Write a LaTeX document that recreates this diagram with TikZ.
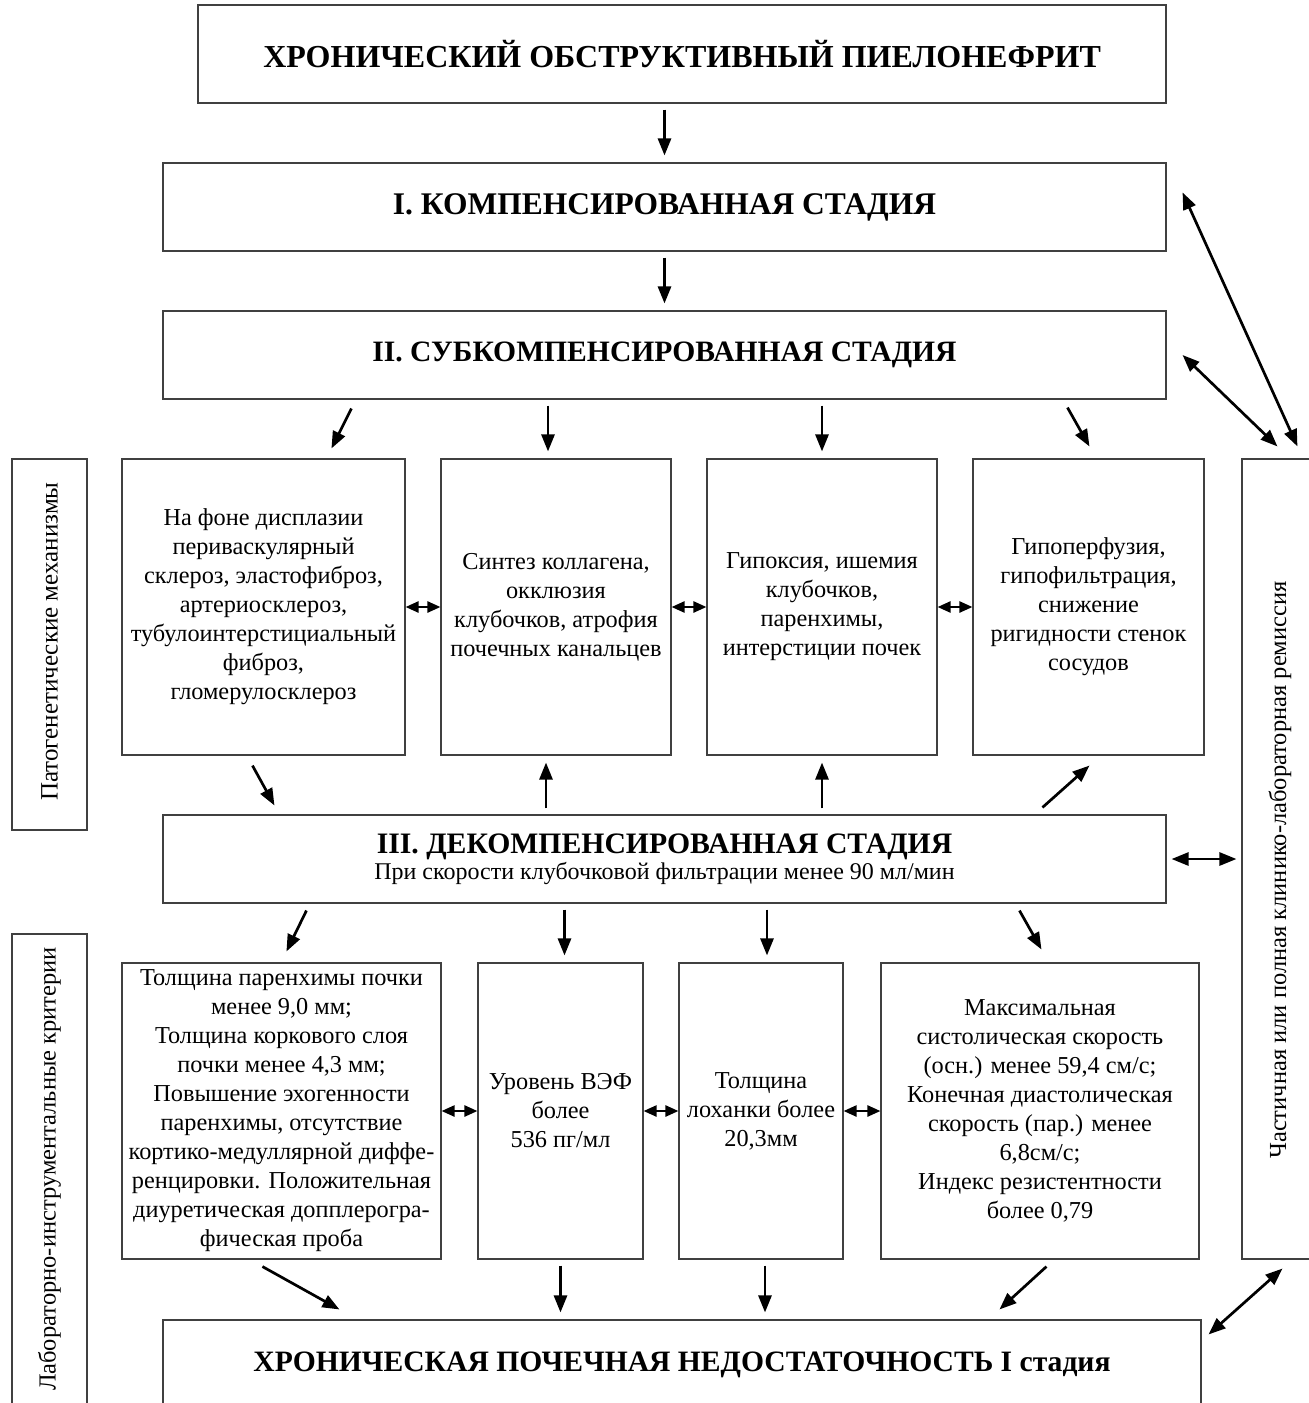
\documentclass[tikz,border=0pt]{standalone}
\usepackage{fontspec}
\setmainfont{Liberation Serif}
\usetikzlibrary{arrows.meta,calc}
\begin{document}
\begin{tikzpicture}[x=1pt,y=-1pt,
  box/.style={draw=black!75,line width=1.1pt,inner sep=0pt,align=center,
    font=\fontsize{24.3}{29}\selectfont},
  titlebox/.style={box,font=\fontsize{29.6}{34}\selectfont\bfseries},
  sidetext/.style={rotate=90,inner sep=0pt,font=\fontsize{24.5}{29}\selectfont},
  arr/.style={line width=2.7pt,-{Triangle[length=17pt,width=13pt]}},
  darr/.style={line width=2.7pt,{Triangle[length=17pt,width=13pt]}-{Triangle[length=17pt,width=13pt]}},
  sdarr/.style={line width=2.4pt,{Triangle[length=13pt,width=11pt]}-{Triangle[length=13pt,width=11pt]}},
  gap/.style={shorten <=6pt,shorten >=7pt}]
\useasboundingbox (0,0) rectangle (1309,1403);
\clip (0,0) rectangle (1309,1403);

% main column
\node[titlebox,minimum width=968,minimum height=98,font=\fontsize{32}{36}\selectfont\bfseries] (top) at (682,54) {ХРОНИЧЕСКИЙ ОБСТРУКТИВНЫЙ ПИЕЛОНЕФРИТ};
\node[titlebox,minimum width=1003,minimum height=88,font=\fontsize{31.5}{36}\selectfont\bfseries] (s1) at (664.5,207) {I. КОМПЕНСИРОВАННАЯ СТАДИЯ};
\node[titlebox,minimum width=1003,minimum height=88] (s2) at (664.5,355) {II. СУБКОМПЕНСИРОВАННАЯ СТАДИЯ};

\node[box,minimum width=283,minimum height=296] (A) at (263.5,607) {На фоне дисплазии\\периваскулярный\\склероз, эластофиброз,\\артериосклероз,\\тубулоинтерстициальный\\фиброз,\\гломерулосклероз};
\node[box,minimum width=230,minimum height=296] (B) at (556,607) {Синтез коллагена,\\окклюзия\\клубочков, атрофия\\почечных канальцев};
\node[box,minimum width=230,minimum height=296] (C) at (822,607) {Гипоксия, ишемия\\клубочков,\\паренхимы,\\интерстиции почек};
\node[box,minimum width=231,minimum height=296] (D) at (1088.5,607) {Гипоперфузия,\\гипофильтрация,\\снижение\\ригидности стенок\\сосудов};

\node[box,minimum width=1003,minimum height=88] (s3) at (664.5,859) {{\fontsize{29.7}{34}\selectfont\bfseries III. ДЕКОМПЕНСИРОВАННАЯ СТАДИЯ}\\[-3pt]{\fontsize{24}{28}\selectfont При скорости клубочковой фильтрации менее 90 мл/мин}};

\node[box,minimum width=319,minimum height=296] (E) at (281.5,1111) {Толщина паренхимы почки\\менее 9,0 мм;\\Толщина коркового слоя\\почки менее 4,3 мм;\\Повышение эхогенности\\паренхимы, отсутствие\\кортико-медуллярной диффе-\\ренцировки. Положительная\\диуретическая допплерогра-\\фическая проба};
\node[box,minimum width=165,minimum height=296] (F) at (560.5,1111) {Уровень ВЭФ\\более\\536 пг/мл};
\node[box,minimum width=164,minimum height=296] (G) at (761,1111) {Толщина\\лоханки более\\20,3мм};
\node[box,minimum width=318,minimum height=296] (H) at (1040,1111) {Максимальная\\систолическая скорость\\(осн.) менее 59,4 см/с;\\Конечная диастолическая\\скорость (пар.) менее\\6,8см/с;\\Индекс резистентности\\более 0,79};

\node[titlebox,minimum width=1038,minimum height=90] (bot) at (682,1365) {ХРОНИЧЕСКАЯ ПОЧЕЧНАЯ НЕДОСТАТОЧНОСТЬ I стадия};

% side labels
\node[box,minimum width=75,minimum height=371] (L1) at (49.5,644.5) {};
\node[sidetext,font=\fontsize{25}{29}\selectfont] (L1t) at ([yshift=3pt]L1.center) {Патогенетические механизмы};
\node[box,minimum width=75,minimum height=476] (L2) at (49.5,1172) {};
\node[sidetext] (L2t) at ([yshift=3pt]L2.center) {Лабораторно-инструментальные критерии};
\node[box,minimum width=76,minimum height=800] (R) at (1280,859) {};
\node[sidetext] (Rt) at ([yshift=-11pt]R.center) {Частичная или полная клинико-лабораторная ремиссия};

% vertical arrows
\draw[arr,gap] (top.south -| s1.north) -- (s1.north);
\draw[arr,gap] (s1.south) -- (s2.north);
\draw[arr,gap] ([xshift=-8pt]s2.south -| B.north) -- ([xshift=-8pt]B.north);
\draw[arr,gap] (s2.south -| C.north) -- (C.north);
\draw[arr,gap] ([xshift=-10pt]s3.north -| B.south) -- ([xshift=-10pt]B.south);
\draw[arr,gap] (s3.north -| C.south) -- (C.south);
\draw[arr,gap] ([xshift=4pt]s3.south -| F.north) -- ([xshift=4pt]F.north);
\draw[arr,gap] ([xshift=6pt]s3.south -| G.north) -- ([xshift=6pt]G.north);
\draw[arr,gap] (F.south) -- (F.south |- bot.north);
\draw[arr,gap] ([xshift=4pt]G.south) -- ([xshift=4pt]G.south |- bot.north);

% diagonal arrows
\draw[arr] ($(s2.south west)+(189,9)$) -- ($(A.north west)+(210,-10)$);
\draw[arr] ($(s2.south west)+(905,8)$) -- ($(D.north west)+(117,-12)$);
\draw[arr] ($(A.south west)+(131,10)$) -- ($(s3.north west)+(112,-9)$);
\draw[arr] ($(s3.north west)+(880,-7)$) -- ($(D.south west)+(117,10)$);
\draw[arr] ($(s3.south west)+(144,7)$) -- ($(E.north west)+(165,-11)$);
\draw[arr] ($(s3.south west)+(857,7)$) -- ($(H.north west)+(161,-13)$);
\draw[arr] ($(E.south west)+(141,7)$) -- ($(bot.north west)+(177,-10)$);
\draw[arr] ($(H.south west)+(166,7)$) -- ($(bot.north west)+(837,-10)$);

% short double arrows
\draw[sdarr] (A.east) -- (B.west);
\draw[sdarr] (B.east) -- (C.west);
\draw[sdarr] (C.east) -- (D.west);
\draw[sdarr] (E.east) -- (F.west);
\draw[sdarr] (F.east) -- (G.west);
\draw[sdarr] (G.east) -- (H.west);

% remission arrows
\draw[darr,shorten <=5pt,shorten >=5pt] (s3.east) -- (R.west);
\draw[darr] ($(s1.north east)+(16,30)$) -- ($(R.north west)+(56,-12)$);
\draw[darr] ($(s2.east)+(16,0)$) -- ($(R.north west)+(36,-12)$);
\draw[darr] ($(R.south west)+(41,9)$) -- ($(bot.north east)+(7,15)$);
\end{tikzpicture}
\end{document}
